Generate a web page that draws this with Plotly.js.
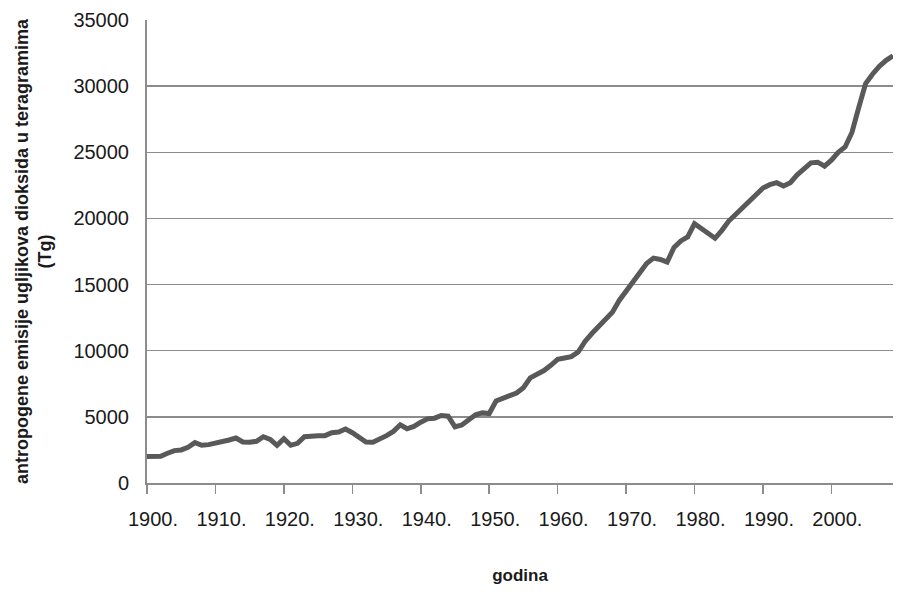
<!DOCTYPE html>
<html>
<head>
<meta charset="utf-8">
<script src="https://cdn.plot.ly/plotly-3.0.1.min.js"></script>
<style>html,body{margin:0;padding:0;background:#fff;}#chart{width:904px;height:593px;}</style>
</head>
<body>
<div id="chart"></div>
<script>
// years 1900–2009
const years = [];
for (let y = 1900; y <= 2009; y++) years.push(y);

// anthropogenic CO2 emissions (Tg)
const emissions = [
  2000, 2000, 2020, 2250, 2450, 2500, 2700, 3050, 2850, 2900,   // 1900-1909
  3000, 3100, 3250, 3400, 3100, 3080, 3150, 3500, 3300, 2850,   // 1910-1919
  3350, 2850, 3000, 3500, 3580, 3580, 3580, 3800, 3850, 4080,   // 1920-1929
  3800, 3400, 3100, 3080, 3300, 3580, 3900, 4400, 4100, 4280,   // 1930-1939
  4600, 4850, 4900, 5100, 5050, 4250, 4380, 4800, 5150, 5300,   // 1940-1949
  5250, 6200, 6450, 6600, 6800, 7200, 7950, 8200, 8500, 8900,   // 1950-1959
  9350, 9450, 9550, 9900, 10700, 11300, 11800, 12300, 12900, 13800, // 1960-1969
  14500, 15300, 16000, 16600, 17000, 16900, 16700, 17800, 18300, 18600, // 1970-1979
  19600, 19200, 18800, 18500, 19100, 19800, 20300, 20800, 21300, 21900, // 1980-1989
  22300, 22550, 22700, 22450, 22700, 23300, 23800, 24200, 24250, 23950, // 1990-1999
  24400, 25000, 25400, 26500, 28400, 30200, 30900, 31500, 31950, 32300  // 2000-2009
];

const tickYears = [1900, 1910, 1920, 1930, 1940, 1950, 1960, 1970, 1980, 1990, 2000];
const tickLabels = ['1900.', '1910.', '1920.', '1930.', '1940.', '1950.', '1960.', '1970.', '1980.', '1990.', '2000.'];
const yTicks = [0, 5000, 10000, 15000, 20000, 25000, 30000, 35000];
const yTickLabels = ['0', '5000', '10000', '15000', '20000', '25000', '30000', '35000'];

const xTitle = 'godina';
const yTitle = 'antropogene emisije ugljikova dioksida u teragramima<br>(Tg)';

const trace = {
  x: years,
  y: emissions,
  type: 'scatter',
  mode: 'lines',
  line: {color: '#595959', width: 5},
  hoverinfo: 'x+y'
};

const layout = {
  width: 904,
  height: 593,
  margin: {l: 147, r: 11, t: 20, b: 110},
  paper_bgcolor: '#ffffff',
  plot_bgcolor: '#ffffff',
  showlegend: false,
  font: {family: 'Liberation Sans, Arial, sans-serif', color: '#1a1a1a', size: 20},
  xaxis: {
    range: [1900, 2009],
    tickvals: tickYears,
    ticktext: tickLabels,
    ticks: 'outside',
    ticklen: 9,
    tickwidth: 1.5,
    tickcolor: '#8c8c8c',
    ticklabelshift: 6,
    ticklabelstandoff: 8,
    showgrid: false,
    zeroline: false,
    showline: true,
    linecolor: '#8c8c8c',
    linewidth: 2,
    tickfont: {size: 20, color: '#1a1a1a'},
    title: {text: xTitle, font: {size: 17, weight: 'bold', color: '#1a1a1a'}, standoff: 40}
  },
  yaxis: {
    range: [0, 35000],
    tickvals: yTicks,
    ticktext: yTickLabels,
    ticks: '',
    showgrid: true,
    gridcolor: '#8c8c8c',
    gridwidth: 1.5,
    zeroline: false,
    showline: true,
    linecolor: '#8c8c8c',
    linewidth: 2,
    ticklabelstandoff: 12,
    tickfont: {size: 20, color: '#1a1a1a'},
    title: {text: yTitle, font: {size: 18, weight: 'bold', color: '#1a1a1a'}, standoff: 17}
  }
};

Plotly.newPlot('chart', [trace], layout, {staticPlot: true, displayModeBar: false});
</script>
</body>
</html>
